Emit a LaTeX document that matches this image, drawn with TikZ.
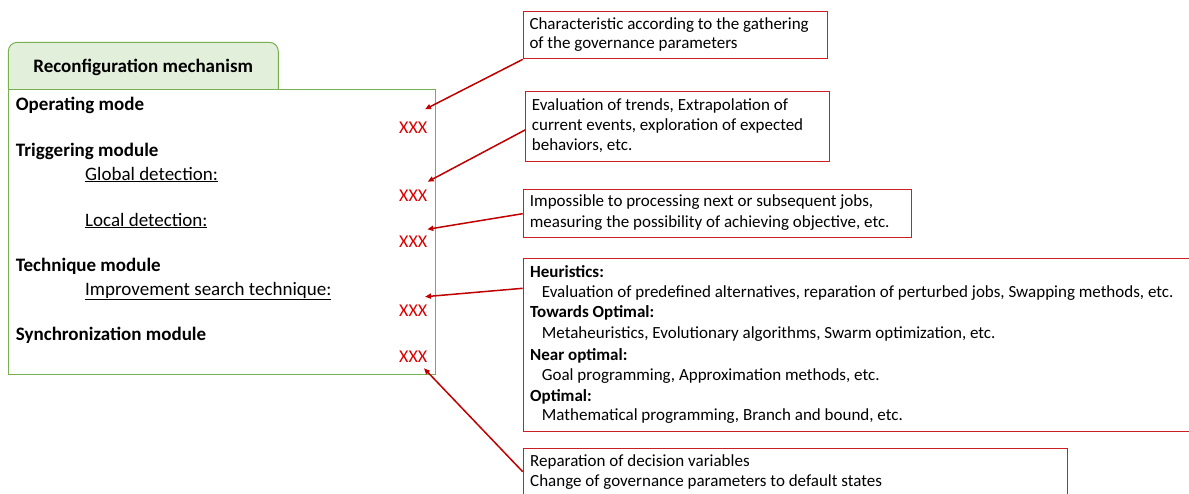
\documentclass[tikz,border=0pt]{standalone}
\usepackage{fontspec}
\setmainfont{Carlito}
\usetikzlibrary{arrows.meta}
\definecolor{grn}{RGB}{120,175,80}
\definecolor{tabfill}{RGB}{226,239,218}
\definecolor{dred}{RGB}{192,0,0}
\definecolor{bred}{RGB}{205,30,35}
\definecolor{xred}{RGB}{220,0,0}
\begin{document}
\begin{tikzpicture}[x=1pt,y=-1pt,
  lbl/.style={anchor=base west,inner sep=0pt,font=\fontsize{19}{23}\selectfont\bfseries},
  sub/.style={anchor=base west,inner sep=0pt,font=\fontsize{19}{23}\selectfont},
  xxx/.style={anchor=base west,inner sep=0pt,text=xred,font=\fontsize{18}{22}\selectfont},
  rbox/.style={draw=bred,line width=1.1pt,anchor=north west,inner sep=0pt},
  rtxt/.style={anchor=base west,inner sep=0pt,font=\fontsize{17}{20}\selectfont},
  rhead/.style={anchor=base west,inner sep=0pt,font=\fontsize{17}{20}\selectfont\bfseries},
  conn/.style={draw=dred,line width=1.5pt,-{Triangle[length=6pt,width=5pt]}},
]
\clip (0,0) rectangle (1189,493);
% tab
\draw[draw=grn,fill=tabfill,line width=1pt,rounded corners=9pt] (8.3,89) -- (8.3,42.3) -- (278.3,42.3) -- (278.3,89);
\node[anchor=base,inner sep=0pt,font=\fontsize{19}{23}\selectfont\bfseries] (title) at (143.2,72.7) {Reconfiguration mechanism};
% main box
\node[draw=grn,line width=1pt,anchor=north west,inner sep=0pt,minimum width=426.7pt,minimum height=285pt,fill=white] (mech) at (8.3,89) {};
\node[lbl] (om) at (15.7,110.7) {Operating mode};
\node[lbl] (tm) at (15.7,156.7) {Triggering module};
\node[sub] (gd) at (85,180) {\underline{Global detection:}};
\node[sub] (ld) at (85,226) {\underline{Local detection:}};
\node[lbl] (tqm) at (15.7,271.7) {Technique module};
\node[sub] (ist) at (85,295) {\underline{Improvement search technique:}};
\node[lbl] (sm) at (15.7,340.7) {Synchronization module};
\node[xxx] (x1) at (399,133.3) {XXX};
\node[xxx] (x2) at (399,201.7) {XXX};
\node[xxx] (x3) at (399,247.3) {XXX};
\node[xxx] (x4) at (399,316.7) {XXX};
\node[xxx] (x5) at (399,362.3) {XXX};
% right boxes
\node[rbox,minimum width=304.3pt,minimum height=47.6pt] (b1) at (522.7,10.7) {};
\node[rtxt] (b1a) at (529.3,29.3) {Characteristic according to the gathering};
\node[rtxt] (b1b) at (529.3,48.3) {of the governance parameters};
\node[rbox,minimum width=304pt,minimum height=70pt] (b2) at (525.3,90.7) {};
\node[rtxt] (b2a) at (531.7,110.7) {Evaluation of trends, Extrapolation of};
\node[rtxt] (b2b) at (531.7,130.7) {current events, exploration of expected};
\node[rtxt] (b2c) at (531.7,150.7) {behaviors, etc.};
\node[rbox,minimum width=388.3pt,minimum height=48.3pt] (b3) at (522.7,189) {};
\node[rtxt] (b3a) at (529.7,206.7) {Impossible to processing next or subsequent jobs,};
\node[rtxt] (b3b) at (529.7,227.7) {measuring the possibility of achieving objective, etc.};
\node[rbox,minimum width=700pt,minimum height=172.4pt] (b4) at (522.7,258.3) {};
\node[rhead] (h1) at (530,277.3) {Heuristics:};
\node[rtxt] (h1t) at (541.7,297) {Evaluation of predefined alternatives, reparation of perturbed jobs, Swapping methods, etc.};
\node[rhead] (h2) at (530,317.7) {Towards Optimal:};
\node[rtxt] (h2t) at (541.7,338.3) {Metaheuristics, Evolutionary algorithms, Swarm optimization, etc.};
\node[rhead] (h3) at (530,360.7) {Near optimal:};
\node[rtxt] (h3t) at (541.7,380.3) {Goal programming, Approximation methods, etc.};
\node[rhead] (h4) at (530,401) {Optimal:};
\node[rtxt] (h4t) at (541.7,420.7) {Mathematical programming, Branch and bound, etc.};
\node[rbox,minimum width=544.3pt,minimum height=60pt] (b5) at (522.7,448.3) {};
\node[rtxt] (b5a) at (530,466.7) {Reparation of decision variables};
\node[rtxt] (b5b) at (530,486) {Change of governance parameters to default states};
% arrow targets
\coordinate (t1) at (425,109.3);
\coordinate (t2) at (427.7,181.7);
\coordinate (t3) at (427.3,229.3);
\coordinate (t4) at (425,296.7);
\coordinate (t5) at (424,368.3);
\draw[conn] (b1.south west) -- (t1);
\draw[conn] ([yshift=-3.6pt]b2.west) -- (t2);
\draw[conn] (b3.west) -- (t3);
\draw[conn] ([yshift=-30pt]b4.north west) -- (t4);
\draw[conn] ([yshift=-23.4pt]b5.north west) -- (t5);
\end{tikzpicture}
\end{document}
